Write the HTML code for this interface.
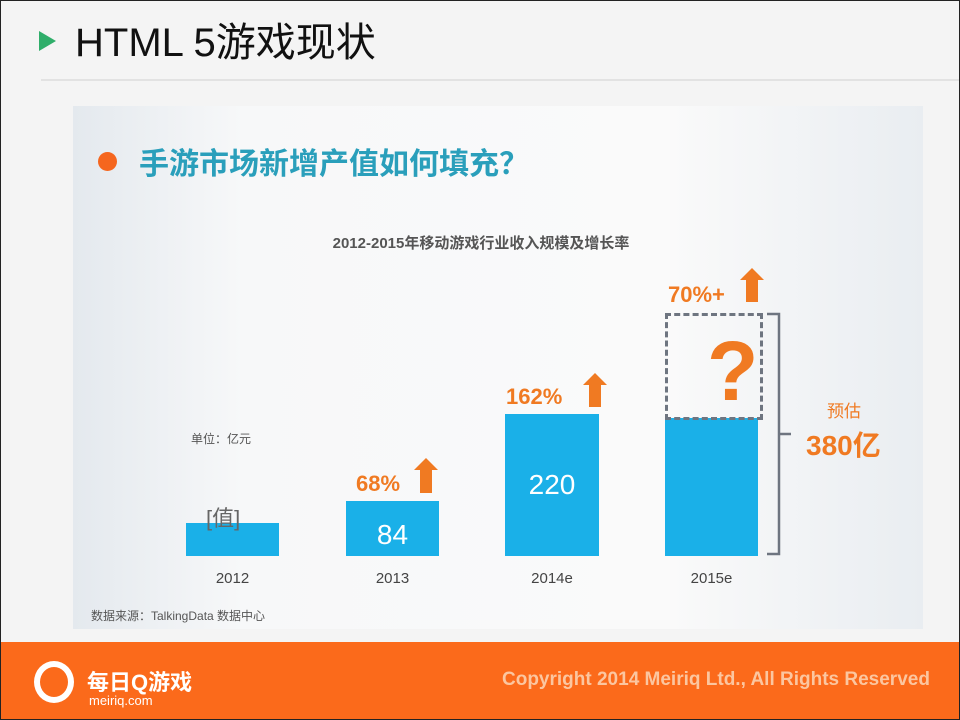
<!DOCTYPE html>
<html><head><meta charset="utf-8"><style>
body{margin:0;width:960px;height:720px;overflow:hidden;font-family:"Liberation Sans","Noto Sans CJK SC",sans-serif;}
.s{position:relative;width:958px;height:718px;border:1px solid #222;background:#f4f4f4;overflow:hidden}
.a{position:absolute;white-space:nowrap}
</style></head><body><div class="s">
<div class="a" style="left:38px;top:30px;width:0;height:0;border-left:17px solid #2fae6a;border-top:10px solid transparent;border-bottom:10px solid transparent"></div>
<div class="a" style="left:74px;top:14px;font-size:40px;color:#111;line-height:56px">HTML 5游戏现状</div>
<div class="a" style="left:40px;top:78px;width:918px;height:2px;background:#e2e2e2"></div>
<div class="a" style="left:72px;top:105px;width:850px;height:523px;background:linear-gradient(90deg,#e4e9ee 0%,#f7f8f9 20%,#fafafa 70%,#e9edf1 100%)"></div>
<div class="a" style="left:97px;top:151px;width:19px;height:19px;border-radius:50%;background:#f5661e"></div>
<div class="a" style="left:138px;top:140px;font-size:30px;color:#2a9fbb;line-height:40px;font-weight:bold">手游市场新增产值如何填充<span style="font-family:'Noto Sans CJK SC',sans-serif">？</span></div>
<div class="a" style="left:0;width:960px;text-align:center;top:231px;font-size:15px;font-weight:bold;color:#555">2012-2015年移动游戏行业收入规模及增长率</div>
<div class="a" style="left:190px;top:429px;font-size:12px;color:#555">单位：亿元</div>
<div class="a" style="left:185px;top:522px;width:93px;height:33px;background:#1ab0e8"></div>
<div class="a" style="left:205px;top:500px;font-size:22px;color:#666">[值]</div>
<div class="a" style="left:345px;top:500px;width:93px;height:55px;background:#1ab0e8"></div>
<div class="a" style="left:345px;width:93px;text-align:center;top:518px;font-size:28px;color:#fff">84</div>
<div class="a" style="left:504px;top:413px;width:94px;height:142px;background:#1ab0e8"></div>
<div class="a" style="left:504px;width:94px;text-align:center;top:468px;font-size:28px;color:#fff">220</div>
<div class="a" style="left:664px;top:417px;width:93px;height:138px;background:#1ab0e8"></div>
<div class="a" style="left:664px;top:312px;width:92px;height:101px;border:3px dashed #6e7580"></div>
<div class="a" style="left:706px;top:322px;font-size:84px;font-weight:bold;color:#f07a22;line-height:96px">?</div>
<svg class="a" style="left:0;top:0" width="960" height="720">
<g fill="#f07a22">
<polygon points="425,457 437,469 431,469 431,492 419,492 419,469 413,469"/>
<polygon points="594,372 606,384 600,384 600,406 588,406 588,384 582,384"/>
<polygon points="751,267 763,279 757,279 757,301 745,301 745,279 739,279"/>
</g>
<path d="M766,313 H778 V553 H766 M778,433 H790" fill="none" stroke="#6e7580" stroke-width="2.5"/>
</svg>
<div class="a" style="left:355px;top:470px;font-size:22px;color:#f07a22;font-weight:bold">68%</div>
<div class="a" style="left:505px;top:383px;font-size:22px;color:#f07a22;font-weight:bold">162%</div>
<div class="a" style="left:667px;top:281px;font-size:22px;color:#f07a22;font-weight:bold">70%+</div>
<div class="a" style="left:826px;top:396px;font-size:17px;color:#f07a22">预估</div>
<div class="a" style="left:805px;top:423px;font-size:28px;color:#f07a22;font-weight:bold">380亿</div>
<div class="a" style="left:185px;width:93px;text-align:center;top:569px;font-size:15px;color:#444">2012</div>
<div class="a" style="left:345px;width:93px;text-align:center;top:569px;font-size:15px;color:#444">2013</div>
<div class="a" style="left:504px;width:94px;text-align:center;top:569px;font-size:15px;color:#444">2014e</div>
<div class="a" style="left:664px;width:93px;text-align:center;top:569px;font-size:15px;color:#444">2015e</div>
<div class="a" style="left:90px;top:606px;font-size:12px;color:#555">数据来源：TalkingData 数据中心</div>
<div class="a" style="left:0;top:641px;width:960px;height:79px;background:#fb6a1b"></div>
<div class="a" style="left:33px;top:660px;width:28px;height:30px;border:6px solid #fff;border-radius:50%"></div>
<div class="a" style="left:86px;top:664px;font-size:22px;font-weight:bold;color:#fff">每日Q游戏</div>
<div class="a" style="left:88px;top:692px;font-size:13px;color:#fff">meiriq.com</div>
<div class="a" style="left:501px;top:668px;font-size:19px;color:#fbc6a0;font-weight:bold">Copyright 2014 Meiriq Ltd., All Rights Reserved</div>
</div></body></html>
